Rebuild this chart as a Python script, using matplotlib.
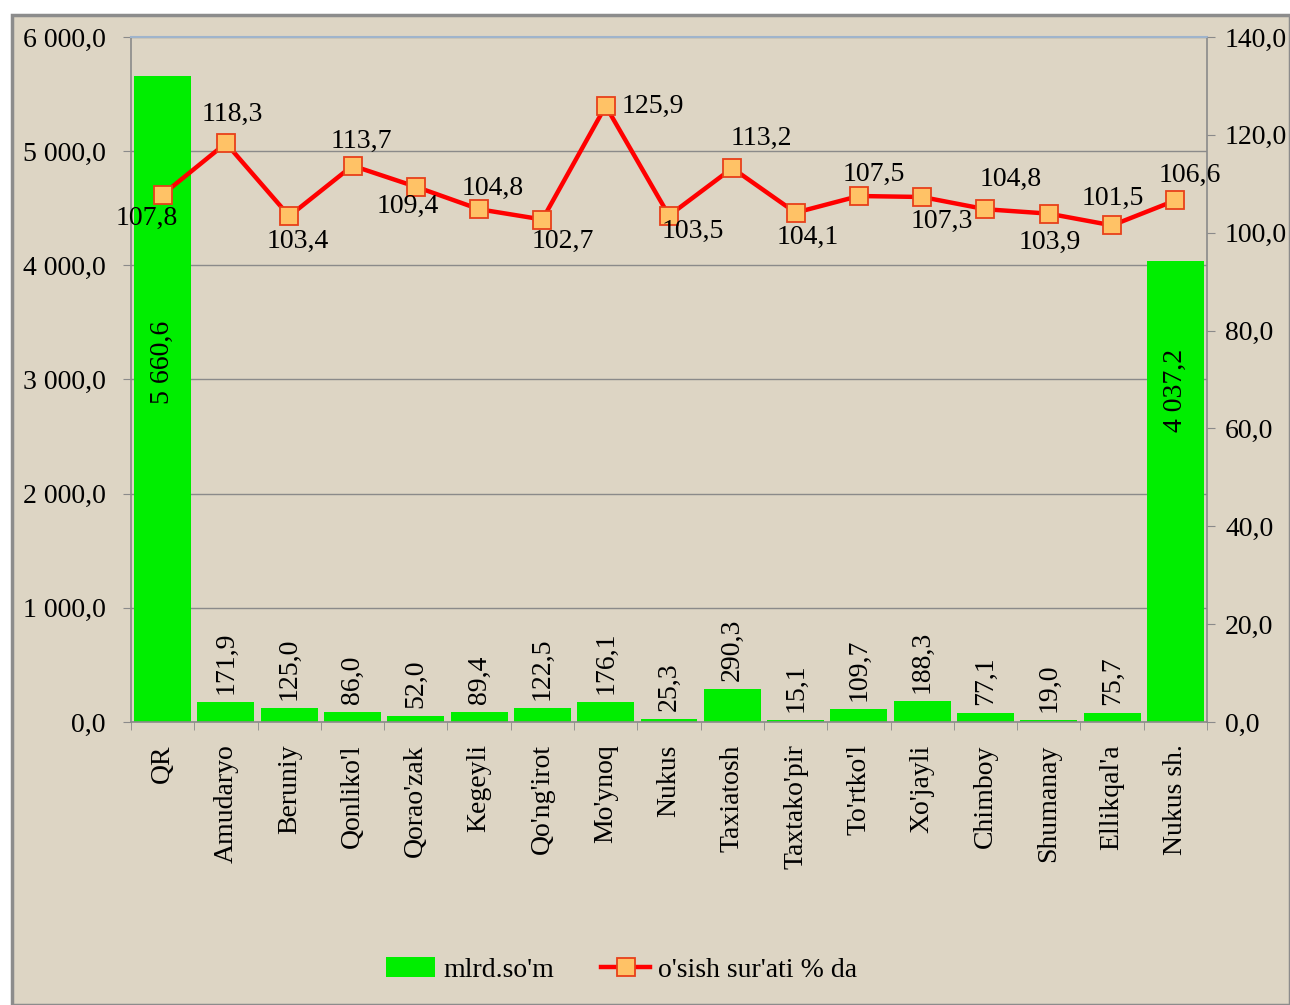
import numpy as np
import matplotlib
matplotlib.use("Agg")
import matplotlib.pyplot as plt
from matplotlib.patches import Rectangle

plt.rcParams['font.family'] = ['Liberation Serif', 'DejaVu Serif']
plt.rcParams['font.size'] = 20

# Données
categories = ["QR", "Amudaryo", "Beruniy", "Qonliko'l", "Qorao'zak", "Kegeyli",
              "Qo'ng'irot", "Mo'ynoq", "Nukus", "Taxiatosh", "Taxtako'pir",
              "To'rtko'l", "Xo'jayli", "Chimboy", "Shumanay", "Ellikqal'a",
              "Nukus sh."]
mlrd_som = [5660.6, 171.9, 125.0, 86.0, 52.0, 89.4, 122.5, 176.1, 25.3, 290.3,
            15.1, 109.7, 188.3, 77.1, 19.0, 75.7, 4037.2]
osish = [107.8, 118.3, 103.4, 113.7, 109.4, 104.8, 102.7, 125.9, 103.5, 113.2,
         104.1, 107.5, 107.3, 104.8, 103.9, 101.5, 106.6]
left_ticks = [0, 1000, 2000, 3000, 4000, 5000, 6000]
right_ticks = [0, 20, 40, 60, 80, 100, 120, 140]

# décalages des étiquettes de la courbe (pixels)
line_offsets = [(-16, -24), (6, 29), (8, -25), (9, 24), (-8, -20), (14, 21),
                (20, -22), (47, 0), (24, -16), (29, 30), (12, -25), (15, 22),
                (20, -24), (25, 30), (1, -29), (1, 27), (14, 25)]


def fmt(v):
    s = f"{v:,.1f}".replace(",", " ").replace(".", ",")
    return s


bg = '#DDD5C4'
fig = plt.figure(figsize=(12.9, 10.05), dpi=100, facecolor='white')
fig.patches.append(Rectangle((12 / 1290, 0), 1 - 12 / 1290, 1 - 15 / 1005,
                             transform=fig.transFigure, facecolor=bg,
                             edgecolor='#8C8C8C', linewidth=2.5, zorder=-10))

ax = fig.add_axes([131 / 1290, 1 - 722 / 1005, (1207 - 131) / 1290, (722 - 37) / 1005])
ax.set_facecolor('none')
x = np.arange(len(categories))

bars = ax.bar(x, mlrd_som, width=0.9, color='#00EE00', zorder=2)
ax.set_xlim(-0.5, len(categories) - 0.5)
ax.set_ylim(0, 6000)
ax.set_yticks(left_ticks)
ax.set_yticklabels([fmt(v) for v in left_ticks])
ax.yaxis.grid(True, color='#8A8A8A', linewidth=1.0, zorder=1)
ax.set_axisbelow(True)

ax.set_xticks(x)
ax.set_xticklabels(categories, rotation=90, va='top', ha='center')
ax.set_xticks(np.arange(len(categories) + 1) - 0.5, minor=True)
ax.tick_params(axis='x', which='major', length=0, pad=16)
ax.tick_params(axis='x', which='minor', length=6, color='#8A8A8A')
ax.tick_params(axis='y', length=6, color='#8A8A8A', pad=12)

for s in ['left', 'bottom', 'right']:
    ax.spines[s].set_color('#8A8A8A')
    ax.spines[s].set_linewidth(1.2)
ax.spines['top'].set_color('#9FB4CC')
ax.spines['top'].set_linewidth(1.5)

# étiquettes des barres
for i, v in enumerate(mlrd_som):
    if v > 1000:
        continue
    ax.annotate(fmt(v), (x[i], v), xytext=(0, 8), textcoords='offset pixels',
                rotation=90, ha='center', va='bottom', zorder=5)
ax.text(x[0], 3150, fmt(mlrd_som[0]), rotation=90, ha='center', va='center', zorder=5)
ax.text(x[-1], 2900, fmt(mlrd_som[-1]), rotation=90, ha='center', va='center', zorder=5)

# axe secondaire
ax2 = ax.twinx()
ax2.set_ylim(0, 140)
ax2.set_yticks(right_ticks)
ax2.set_yticklabels([fmt(v) for v in right_ticks])
ax2.tick_params(axis='y', length=6, color='#8A8A8A', pad=7)
for s in ax2.spines.values():
    s.set_visible(False)

line, = ax2.plot(x, osish, color='#FF0000', linewidth=3.2, marker='s',
                 markersize=13, markerfacecolor='#FFC266',
                 markeredgecolor='#E8401A', markeredgewidth=1.3, zorder=4)
for i, v in enumerate(osish):
    dx, dy = line_offsets[i]
    ax2.annotate(fmt(v), (x[i], v), xytext=(dx, dy), textcoords='offset pixels',
                 ha='center', va='center', zorder=6)

fig.legend([bars, line], ["mlrd.so'm", "o'sish sur'ati % da"], loc='center',
           bbox_to_anchor=(622 / 1290, 1 - 970 / 1005), ncol=2, frameon=False,
           handlelength=1.75, handleheight=0.75, handletextpad=0.3,
           columnspacing=1.7, fontsize=20)

fig.savefig('out.png', dpi=100, facecolor=fig.get_facecolor())
